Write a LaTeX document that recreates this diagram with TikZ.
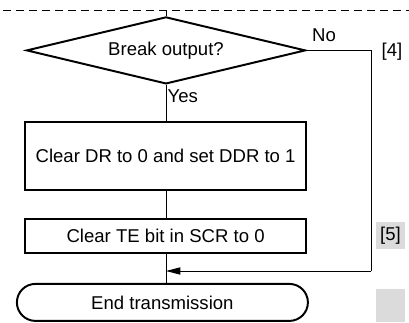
\documentclass[tikz,border=0pt]{standalone}
\usepackage{fontspec}
\setmainfont{Liberation Sans}
\usepackage{tikz}
\usetikzlibrary{shapes.geometric,shapes.misc,arrows.meta}

\begin{document}
\begin{tikzpicture}[
	font=\fontsize{13.2}{16}\selectfont,
	boks/.style={draw, line width=1.4pt, inner sep=0pt},
	linje/.style={line width=0.7pt},
	pil/.style={linje, -{Triangle[length=3.6mm,width=1.8mm]}},
	merke/.style={fill=black!14, minimum width=0.725cm, minimum height=0.675cm, inner sep=0pt}
	]
\useasboundingbox (0,0) rectangle (10.225,8.05)					;

%%%%------------Stiplet linje----------------%%
\coordinate (sv) at (0.075,7.8)								;
\coordinate (sh) at (10.225,7.8)								;
\coordinate (topp) at (4.15,7.8)								;
\draw [linje, dash pattern=on 0.2cm off 0.125cm] (sv) -- (sh)	;

%%%%------------Valg----------------%%
\node [boks, diamond, aspect=4, minimum width=6.975cm, minimum height=1.675cm] (valg) at (4.15,6.79) {Break output?}	;
\node (nei) at (8.1,7.175) {No}								;
\node (fire) at (9.8,6.75) {[4]}								;
\node [right, inner sep=1pt] (ja) at (4.15,5.65) {Yes}		;

%%%%------------Bokser----------------%%
\node [boks, rectangle, minimum width=7.025cm, minimum height=1.7cm] (dr) at (4.14,4.15) {Clear DR to 0 and set DDR to 1}	;
\node [boks, rectangle, minimum width=7.025cm, minimum height=0.85cm] (te) at (4.14,2.15) {Clear TE bit in SCR to 0}		;
\node [merke] (fem) at (9.76,2.16) {[5]}						;
\node [boks, rounded rectangle, minimum width=7.275cm, minimum height=0.925cm] (slutt) at (4.06,0.49) {End transmission}	;
\node [merke, minimum height=0.825cm] (tom) at (9.76,0.41) {}	;

%%%-------------Linjer-------------%%%
\coordinate (hjorne) at (9.275,6.79)							;
\coordinate (retur) at (9.275,1.275)							;
\draw [linje] (topp) -- (valg.north)							;
\draw [linje] (valg.south) -- (valg.south |- dr.north)		;
\draw [linje] (valg.east) -- (hjorne) -- (retur)				;
\draw [linje] (dr.south -| valg.south) -- (te.north -| valg.south)	;
\draw [linje] (te.south -| valg.south) -- (slutt.north -| valg.south)	;
\draw [pil] (retur) -- (retur -| valg.south)					;

\end{tikzpicture}
\end{document}
